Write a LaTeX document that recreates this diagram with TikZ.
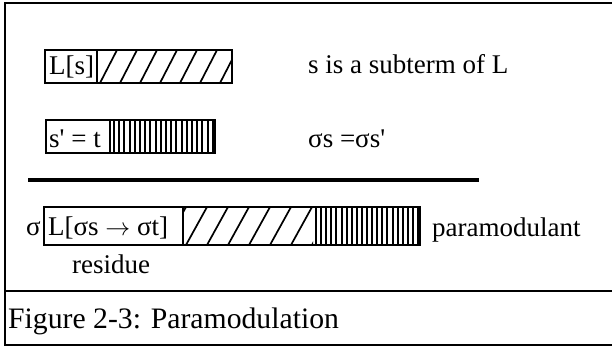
\documentclass[tikz,border=0pt]{standalone}
\usepackage{fontspec}
\setmainfont{Liberation Serif}
\begin{document}
\begin{tikzpicture}[x=1pt,y=-1pt,
  lbl/.style={anchor=base west, inner sep=0pt, font=\fontsize{27}{30}\selectfont},
  captext/.style={anchor=base west, inner sep=0pt, font=\fontsize{29.7}{32}\selectfont},
  frameline/.style={line width=2.2pt},
  boxline/.style={line width=2.4pt},
  hatchline/.style={line width=1.7pt},
  vline/.style={line width=2pt}]
\useasboundingbox (0,0) rectangle (612,347);
\fill[white] (0,0) rectangle (612,347);
% frame
\draw[frameline] (612,3) -- (5,3) -- (5,345) -- (612,345);
\draw[frameline] (5,291) -- (612,291);
% box 1
\begin{scope}
\clip (97,50) rectangle (232,83);
\foreach \k in {0,...,7} \draw[hatchline] (80+20*\k,83) -- (97+20*\k,50);
\end{scope}
\draw[boxline] (45,50) rectangle (232,83);
\draw[boxline] (97,50) -- (97,83);
\node[lbl] (ls) at (49,75) {L[s]};
% box 2
\foreach \k in {0,...,19} \draw[vline] (114+5.2*\k,120) -- (114+5.2*\k,153);
\draw[boxline] (46,120) rectangle (215,153);
\draw[boxline] (110,120) -- (110,153);
\node[lbl] (st) at (49,148) {s\textquotesingle\ = t};
% right texts
\node[lbl] (sub) at (308,74) {s is a subterm of L};
\node[lbl] (eq) at (308,148) {σs =σs\textquotesingle};
% thick rule
\draw[line width=3.5pt] (28,180) -- (479,180);
% bottom box
\begin{scope}
\clip (183,207) rectangle (313,245);
\foreach \k in {0,...,7} \draw[hatchline] (165+21*\k,245) -- (186+21*\k,207);
\end{scope}
\foreach \k in {0,...,20} \draw[vline] (316+5.1*\k,207) -- (316+5.1*\k,245);
\draw[boxline] (44,207) rectangle (420,245);
\draw[boxline] (183,207) -- (183,245);
\node[lbl] (sig) at (26,235) {σ};
\node[lbl] (lst) at (48,235) {L[σs $\rightarrow$ σt]};
\node[lbl] (para) at (432,236) {paramodulant};
\node[lbl] (res) at (72,273) {residue};
% caption
\node[captext] (caption) at (8,328) {Figure 2-3: Paramodulation};
\end{tikzpicture}
\end{document}
